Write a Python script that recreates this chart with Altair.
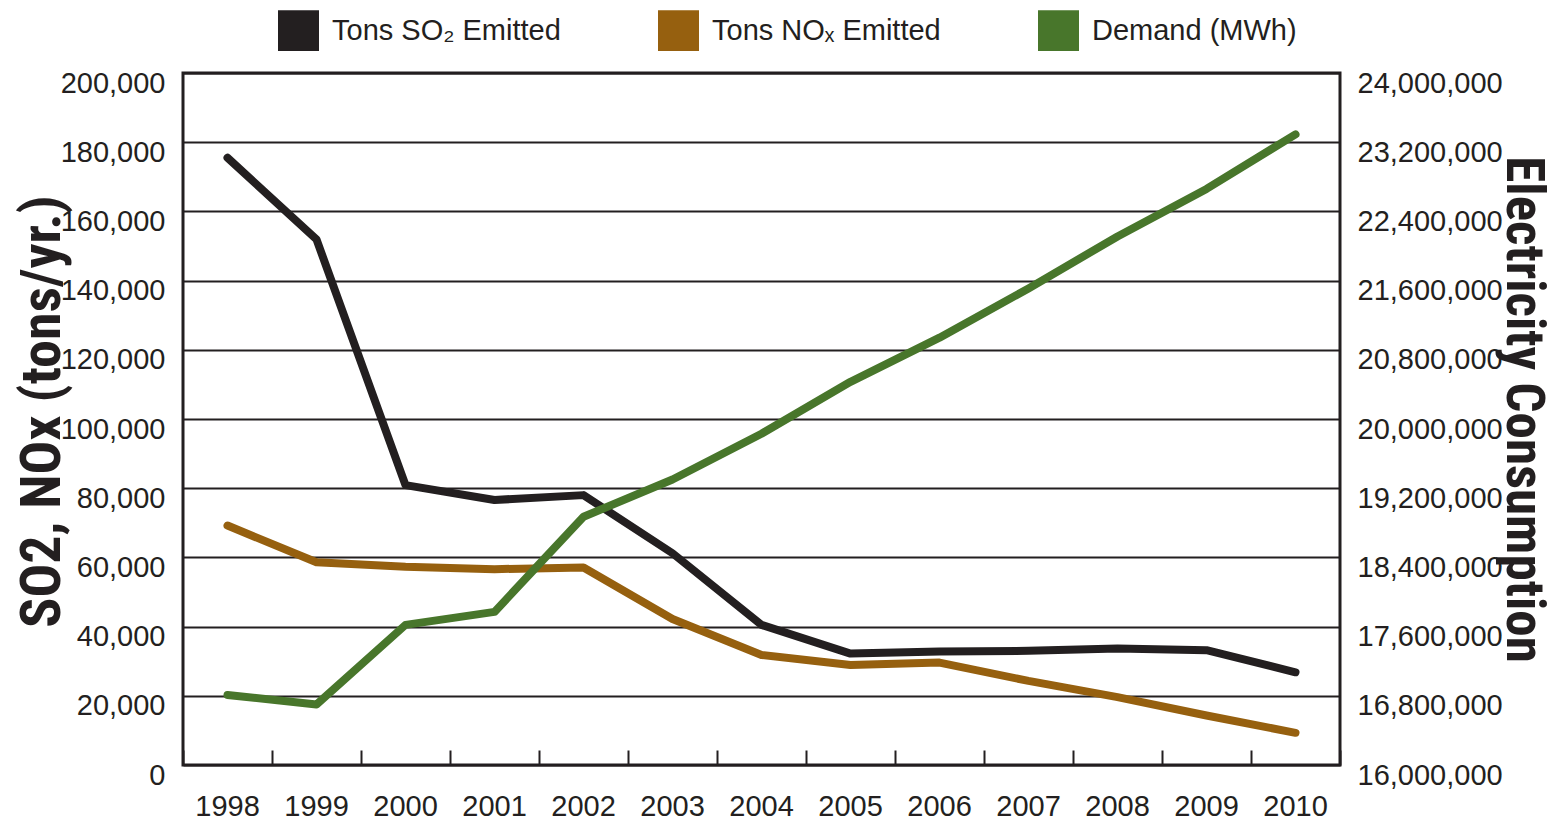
import altair as alt
import pandas as pd

# ---- data ----
years = [1998, 1999, 2000, 2001, 2002, 2003, 2004, 2005, 2006, 2007, 2008, 2009, 2010]
so2_tons = [175500, 151900, 80900, 76600, 78000, 61200, 40500, 32200, 32800, 33000, 33700, 33200, 26800]
nox_tons = [69200, 58600, 57300, 56600, 57100, 42200, 31800, 28900, 29600, 24300, 19600, 14300, 9300]
demand_mwh = [16810000, 16700000, 17620000, 17770000, 18870000, 19300000, 19830000,
              20430000, 20940000, 21510000, 22110000, 22660000, 23290000]

series_names = ["Tons SO\u2082 Emitted", "Tons NO\u2093 Emitted", "Demand (MWh)"]
series_colors = ["#231f20", "#96600f", "#48762b"]

left_ticks = list(range(0, 200001, 20000))
right_ticks = list(range(16000000, 24000001, 800000))

emis = pd.DataFrame({
    "year": years + years,
    "value": so2_tons + nox_tons,
    "series": [series_names[0]] * len(years) + [series_names[1]] * len(years),
})
dem = pd.DataFrame({"year": years, "demand": demand_mwh, "series": [series_names[2]] * len(years)})

FONT = "Liberation Sans"
TFONT = "'Liberation Sans Narrow', 'Roboto Condensed', 'DejaVu Sans Condensed', 'Liberation Sans', sans-serif"
INK = "#231f20"

color = alt.Color(
    "series:N",
    scale=alt.Scale(domain=series_names, range=series_colors),
    legend=alt.Legend(
        title=None, orient="none", legendX=95, legendY=-63, direction="horizontal",
        symbolType="square", symbolSize=420, symbolStrokeWidth=20.5, symbolOpacity=1,
        labelFont=FONT, labelFontSize=29, labelColor=INK, labelOffset=13,
        columnPadding=66, padding=0, labelLimit=400,
    ),
)

xscale = alt.Scale(type="band", paddingInner=0, paddingOuter=0)

x_main = alt.X(
    "year:O", scale=xscale, bandPosition=0.5,
    axis=alt.Axis(orient="bottom", title=None, labelAngle=0, labelFont=FONT, labelFontSize=29,
                  labelColor=INK, labelPadding=27, ticks=False, domain=False, grid=False),
)
x_ticks = alt.X(
    "year:O", scale=xscale, bandPosition=0.5,
    axis=alt.Axis(orient="bottom", title=None, labels=False, domain=False, grid=False,
                  ticks=True, tickBand="extent", tickSize=15, tickWidth=2, tickColor=INK, offset=-15),
)

y_left = alt.Y(
    "value:Q",
    scale=alt.Scale(domain=[0, 200000], nice=False),
    axis=alt.Axis(
        orient="left", values=left_ticks, format=",d", grid=True, gridColor=INK, gridWidth=2,
        gridOpacity=1, domain=False, ticks=False, labelFont=FONT, labelFontSize=29,
        labelColor=INK, labelPadding=18, labelOffset=10,
        title="SO2, NOx (tons/yr.)", titleFont=TFONT, titleFontWeight="bold", titleFontSize=56,
        titleColor=INK, titleAngle=-90, titleX=-124, titleY=338, titleAlign="center",
        titleBaseline="alphabetic",
    ),
)
y_right = alt.Y(
    "demand:Q",
    scale=alt.Scale(domain=[16000000, 24000000], nice=False, zero=False),
    axis=alt.Axis(
        orient="right", values=right_ticks, format=",d", grid=False, domain=False, ticks=False,
        labelFont=FONT, labelFontSize=29, labelColor=INK, labelPadding=17, labelOffset=10,
        title="Electricity Consumption", titleFont=TFONT, titleFontWeight="bold", titleFontSize=53,
        titleColor=INK, titleAngle=90, titleX=166, titleY=336, titleAlign="center",
        titleBaseline="alphabetic",
    ),
)

lines_emis = alt.Chart(emis).mark_line(strokeWidth=8, strokeCap="round", strokeJoin="round").encode(
    x=x_main, y=y_left, color=color,
)
lines_dem = alt.Chart(dem).mark_line(strokeWidth=8, strokeCap="round", strokeJoin="round").encode(
    x=x_ticks, y=y_right, color=color,
)

chart = (
    alt.layer(lines_emis, lines_dem)
    .resolve_scale(y="independent")
    .resolve_axis(x="independent")
    .properties(
        width=1157, height=692,
        autosize=alt.AutoSizeParams(type="none"),
        padding={"left": 175, "top": 65, "right": 214, "bottom": 57},
        background="white",
    )
    .configure_view(stroke=INK, strokeWidth=3)
)

chart.save("out.html", embed_options={"renderer": "svg", "actions": False})
